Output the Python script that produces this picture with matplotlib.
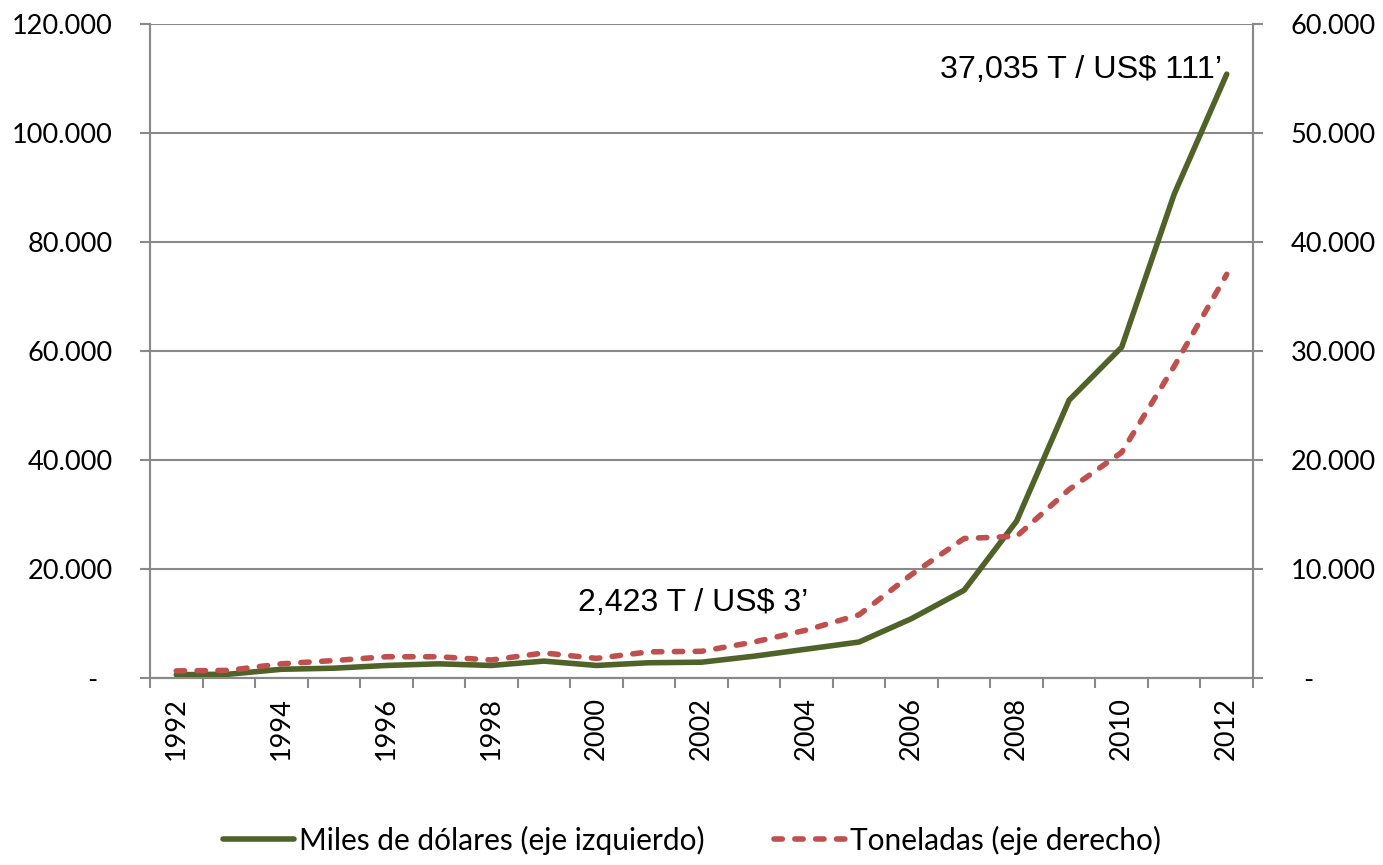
import matplotlib.pyplot as plt
import numpy as np

# years and the two series
years = list(range(1992, 2013))
miles_usd = [600, 700, 1600, 1800, 2300, 2600, 2300, 3100, 2300, 2800, 2900,
             4000, 5300, 6600, 10900, 16100, 28800, 51000, 60700, 88800, 110800]
toneladas = [650, 700, 1300, 1600, 1950, 1950, 1650, 2300, 1800, 2400, 2450,
             3300, 4400, 5800, 9500, 12800, 13000, 17300, 20700, 28600, 37035]

left_ticks = [0, 20000, 40000, 60000, 80000, 100000, 120000]
right_ticks = [0, 10000, 20000, 30000, 40000, 50000, 60000]

plt.rcParams['font.family'] = ['Lato', 'DejaVu Sans']

green = '#4F6228'
red = '#C0504D'
grid_col = '#898989'


def fmt(v, left=True):
    if v == 0:
        return '-  ' if left else '  -'
    return f"{v:,.0f}".replace(',', '.')


fig = plt.figure(figsize=(13.83, 8.65), dpi=100)
ax = fig.add_axes([150 / 1383, 1 - 678 / 865, 1103 / 1383, 654 / 865])
ax2 = ax.twinx()

x = np.arange(len(years))

ax.set_xlim(-0.5, len(years) - 0.5)
ax.set_ylim(0, 120000)
ax2.set_ylim(0, 60000)

# horizontal gridlines
for t in left_ticks:
    ax.axhline(t, color=grid_col, lw=1.5, zorder=1)

l1, = ax.plot(x, miles_usd, color=green, lw=4, zorder=3,
              solid_capstyle='round', solid_joinstyle='round')
l2, = ax2.plot(x, toneladas, color=red, lw=4, linestyle=(0, (1.5, 2.25)),
               zorder=3, dash_capstyle='round')

# y axes
ax.set_yticks(left_ticks)
ax.set_yticklabels([fmt(t) for t in left_ticks])
ax2.set_yticks(right_ticks)
ax2.set_yticklabels([fmt(t, left=False) for t in right_ticks])
for a in (ax, ax2):
    a.tick_params(axis='y', length=7, width=1.5, color=grid_col, pad=20,
                  labelsize=19.5)
    for s in a.spines.values():
        s.set_color(grid_col)
        s.set_linewidth(1.5)
    a.spines['top'].set_visible(False)

# x axis: labels every other year, tick marks between categories
ax.set_xticks(x[::2])
ax.set_xticklabels([str(y) for y in years[::2]], rotation=90, fontsize=19.5)
ax.set_xticks(np.arange(-0.5, len(years)), minor=True)
ax.tick_params(axis='x', which='major', length=0, pad=14)
ax.tick_params(axis='x', which='minor', length=7, width=1.5, color=grid_col)

ax.text(0.492, 0.115, "2,423 T / US$ 3\u2019", transform=ax.transAxes,
        ha='center', va='center', fontsize=23, family='Liberation Sans')
ax.text(0.972, 0.93, "37,035 T / US$ 111\u2019", transform=ax.transAxes,
        ha='right', va='center', fontsize=23.3, family='Liberation Sans')

fig.legend([l1, l2], ['Miles de dólares (eje izquierdo)', 'Toneladas (eje derecho)'],
           loc='center', bbox_to_anchor=(692 / 1383, 1 - 840 / 865), ncol=2,
           frameon=False, handlelength=2.35, handletextpad=0.17,
           columnspacing=2.35, prop={'size': 21.5})

fig.savefig('out.png', dpi=100)
